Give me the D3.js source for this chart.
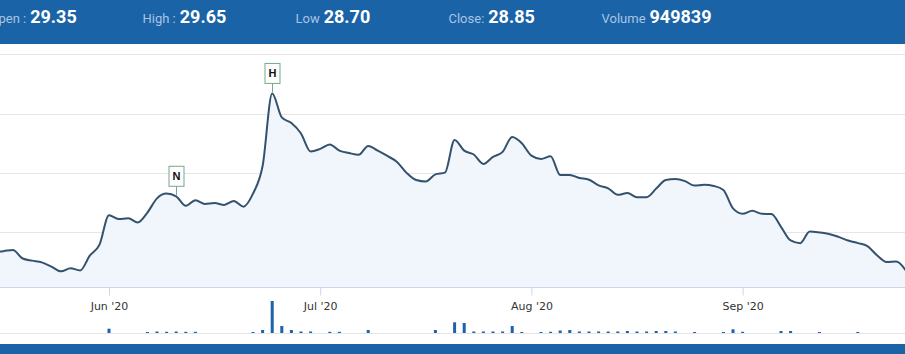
<!DOCTYPE html>
<html>
<head>
<meta charset="utf-8">
<script src="https://cdn.jsdelivr.net/npm/d3@7"></script>
<style>
  body { margin: 0; background: #fff; }
  svg { display: block; }
</style>
</head>
<body>
<script>
let w = 905;
let h = 354;

// header quote
let quoteLabels = ["Open :", "High :", "Low", "Close:", "Volume"];
let quoteValues = ["29.35", "29.65", "28.70", "28.85", "949839"];

// daily closes, one per trading day (mid May - late Sep 2020)
let closes = [
  29.34, 29.36, 29.40, 29.11, 29.04, 28.98, 28.84, 28.68, 28.78, 28.71,
  29.21, 29.57, 30.57, 30.44, 30.47, 30.33, 30.66, 31.14, 31.30, 31.21,
  30.89, 31.08, 30.95, 30.98, 30.92, 31.05, 30.86, 31.30, 32.23, 34.68,
  33.87, 33.68, 33.33, 32.72, 32.81, 32.96, 32.75, 32.67, 32.61, 32.91,
  32.75, 32.57, 32.37, 32.00, 31.76, 31.71, 31.95, 32.01, 33.11, 32.75,
  32.62, 32.30, 32.54, 32.71, 33.21, 33.00, 32.58, 32.47, 32.56, 31.93,
  31.93, 31.83, 31.77, 31.58, 31.48, 31.26, 31.32, 31.18, 31.18, 31.47,
  31.76, 31.79, 31.72, 31.57, 31.60, 31.56, 31.42, 30.80, 30.62, 30.72,
  30.62, 30.61, 30.18, 29.72, 29.63, 30.02, 29.99, 29.94, 29.84, 29.72,
  29.63, 29.53, 29.22, 28.99, 29.01, 28.71
];

// volume, by trading-day index
let volIndex = [12, 16, 17, 18, 19, 20, 21, 27, 28, 29, 30, 31, 32, 33, 35, 36, 39, 46,
  48, 49, 50, 51, 52, 53, 54, 55, 57, 58, 59, 60, 61, 62, 63, 64, 65, 66, 67, 68,
  69, 70, 71, 73, 76, 77, 78, 82, 83, 86, 90];
let volValues = [430000, 100000, 150000, 120000, 150000, 120000, 120000, 100000, 300000,
  3200000, 700000, 300000, 150000, 150000, 120000, 120000, 300000, 300000,
  1070000, 1000000, 150000, 150000, 150000, 150000, 700000, 100000, 100000, 120000,
  250000, 300000, 150000, 150000, 150000, 150000, 150000, 200000, 150000, 150000,
  200000, 200000, 150000, 100000, 100000, 370000, 120000, 200000, 200000, 100000, 100000];

let tickIndex = [12, 34, 56, 78];
let tickLabels = ["Jun '20", "Jul '20", "Aug '20", "Sep '20"];
let gridValues = [30, 32, 34, 36];

let flagIndex = [19, 29];
let flagText = ["N", "H"];

let blue = "#1b63a7";

let xScale = d3.scaleLinear()
  .domain([0, closes.length - 1])
  .range([-6.2, 905.8]);

let yScale = d3.scaleLinear()
  .domain([28.15, 36])
  .range([287, 54.3]);

let vScale = d3.scaleLinear()
  .domain([0, 3200000])
  .range([333, 301]);

let svg = d3.select("body")
  .append("svg")
  .attr("width", w)
  .attr("height", h);

// gridlines
svg.append("g")
  .selectAll("line")
  .data(gridValues)
  .enter()
  .append("line")
  .attr("x1", 0)
  .attr("x2", w)
  .attr("y1", (d) => { return Math.round(yScale(d)) + 0.5; })
  .attr("y2", (d) => { return Math.round(yScale(d)) + 0.5; })
  .attr("stroke", "#e6e6e6");

let area = d3.area()
  .x((d, i) => { return xScale(i); })
  .y0(yScale.range()[0])
  .y1((d) => { return yScale(d); })
  .curve(d3.curveMonotoneX);

let line = d3.line()
  .x((d, i) => { return xScale(i); })
  .y((d) => { return yScale(d); })
  .curve(d3.curveMonotoneX);

svg.append("path")
  .datum(closes)
  .attr("d", area)
  .attr("fill", "#f0f6fc");

svg.append("path")
  .datum(closes)
  .attr("d", line)
  .attr("fill", "none")
  .attr("stroke", "#34526d")
  .attr("stroke-width", 2);

// x axis
let xAxis = d3.axisBottom()
  .scale(xScale)
  .tickValues(tickIndex)
  .tickFormat((d, i) => { return tickLabels[i]; })
  .tickSize(8)
  .tickPadding(7);

let gx = svg.append("g")
  .attr("class", "x axis")
  .attr("transform", "translate(0," + 287.5 + ")")
  .call(xAxis);

gx.select(".domain").remove();
gx.append("line")
  .attr("x1", 0)
  .attr("x2", w)
  .attr("stroke", "#ccd6eb");
gx.selectAll(".tick line").attr("stroke", "#ccd6eb");
gx.selectAll(".tick text")
  .attr("fill", "#333")
  .style("font-family", "DejaVu Sans")
  .style("font-size", "11px");

// volume pane
svg.append("line")
  .attr("x1", 0)
  .attr("x2", w)
  .attr("y1", 333.5)
  .attr("y2", 333.5)
  .attr("stroke", "#e6e6e6");

svg.append("g")
  .selectAll("rect")
  .data(volValues)
  .enter()
  .append("rect")
  .attr("x", (d, i) => { return xScale(volIndex[i]) - 1.5; })
  .attr("y", (d) => { return vScale(d); })
  .attr("width", 3)
  .attr("height", (d) => { return vScale(0) - vScale(d); })
  .attr("fill", "#1c62ac");

// flags
let flags = svg.append("g")
  .selectAll("g")
  .data(flagIndex)
  .enter()
  .append("g")
  .attr("transform", (d) => {
    return "translate(" + Math.round(xScale(d)) + "," + yScale(closes[d]) + ")";
  });

flags.append("line")
  .attr("x1", 0.5)
  .attr("x2", 0.5)
  .attr("y1", -10)
  .attr("y2", -1)
  .attr("stroke", "#79a58e");

flags.append("rect")
  .attr("x", -7)
  .attr("y", -30)
  .attr("width", 15)
  .attr("height", 20)
  .attr("fill", "#fff")
  .attr("stroke", "#79a58e");

flags.append("text")
  .attr("x", 0.5)
  .attr("y", -16)
  .attr("text-anchor", "middle")
  .style("font-family", "Arial, 'Liberation Sans', sans-serif")
  .style("font-weight", "bold")
  .style("font-size", "11px")
  .attr("fill", "#111")
  .text((d, i) => { return flagText[i]; });

// header and footer bars
svg.append("rect")
  .attr("x", 0)
  .attr("y", 0)
  .attr("width", w)
  .attr("height", 44)
  .attr("fill", blue);

svg.append("rect")
  .attr("x", 0)
  .attr("y", 344)
  .attr("width", w)
  .attr("height", h - 344)
  .attr("fill", blue);

let quote = svg.append("g")
  .selectAll("g")
  .data(quoteLabels)
  .enter()
  .append("g")
  .attr("transform", (d, i) => { return "translate(" + (-10.5 + i * 153) + ",23)"; });

quote.append("text")
  .attr("class", "lbl")
  .style("font-family", "Roboto")
  .style("font-size", "13px")
  .attr("fill", "#a8c4e4")
  .text((d) => { return d; });

quote.append("text")
  .attr("x", function() {
    return this.parentNode.querySelector(".lbl").getComputedTextLength() + 4;
  })
  .style("font-family", "Roboto")
  .style("font-weight", "bold")
  .style("font-size", "18px")
  .attr("fill", "#fff")
  .text((d, i) => { return quoteValues[i]; });
</script>
</body>
</html>
